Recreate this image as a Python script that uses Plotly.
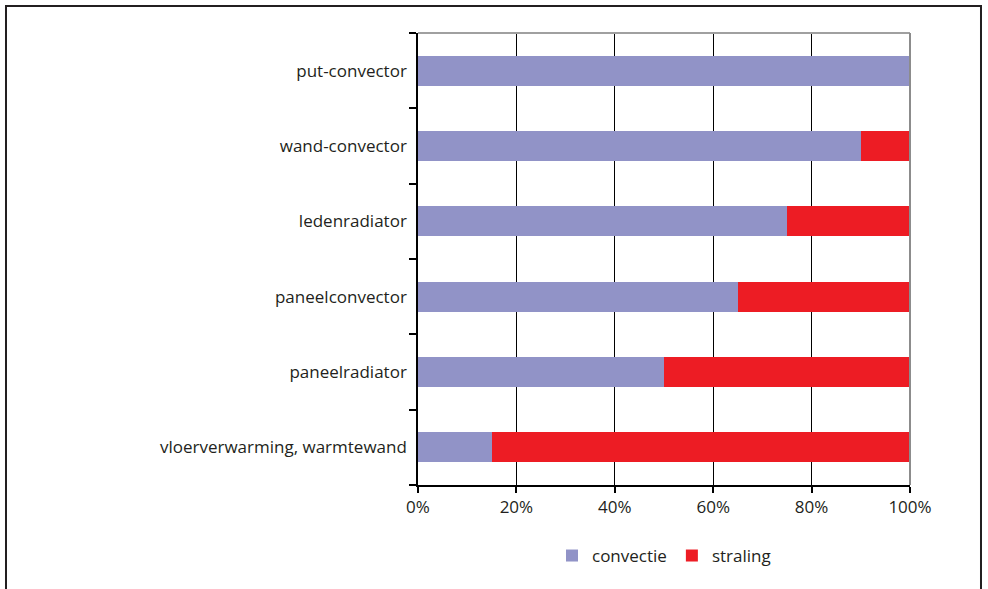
import plotly.graph_objects as go

categories = ["vloerverwarming, warmtewand", "paneelradiator", "paneelconvector",
              "ledenradiator", "wand-convector", "put-convector"]
convectie = [15, 50, 65, 75, 90, 100]
straling = [85, 50, 35, 25, 10, 0]
x_ticks = [0, 20, 40, 60, 80, 100]
x_ticklabels = ["0%", "20%", "40%", "60%", "80%", "100%"]

FONT = "Open Sans"
TXT = "#231F20"

fig = go.Figure()
fig.add_trace(go.Bar(y=categories, x=convectie, name="convectie", orientation="h",
                     marker=dict(color="#9193C7", line=dict(width=0))))
fig.add_trace(go.Bar(y=categories, x=straling, name="straling", orientation="h",
                     marker=dict(color="#ED1C24", line=dict(width=0))))

fig.update_layout(
    width=988, height=589,
    barmode="stack", bargap=0.6,
    paper_bgcolor="white", plot_bgcolor="white",
    margin=dict(l=418, r=78, t=33, b=104),
    font=dict(family=FONT, size=17, color=TXT),
    showlegend=True,
    legend=dict(orientation="h", x=0.5, xanchor="center", y=-0.157, yanchor="middle",
                font=dict(size=17, color=TXT), traceorder="normal",
                itemwidth=30, bgcolor="rgba(0,0,0,0)"),
    xaxis=dict(range=[0, 100], tickvals=x_ticks, ticktext=x_ticklabels,
               showgrid=True, gridcolor="black", gridwidth=1,
               showline=True, linecolor="black", linewidth=1.5,
               ticks="outside", ticklen=6, tickcolor="black", tickwidth=1.5,
               zeroline=False, fixedrange=True),
    yaxis=dict(categoryorder="array", categoryarray=categories,
               showline=True, linecolor="black", linewidth=1.5,
               ticks="outside", tickson="boundaries", ticklen=7, tickcolor="black",
               tickwidth=1.5, showgrid=False, ticklabelstandoff=6, fixedrange=True),
    shapes=[
        dict(type="line", xref="paper", yref="paper", x0=0, x1=1, y0=1, y1=1,
             line=dict(color="#A0A0A0", width=2), layer="above"),
        dict(type="line", xref="paper", yref="paper", x0=1, x1=1, y0=0, y1=1,
             line=dict(color="#8C8C8C", width=2), layer="above"),
        dict(type="path", xref="paper", yref="paper",
             path="M -0.8374,-0.25 L -0.8374,1.0597 L 1.1443,1.0597 L 1.1443,-0.25",
             line=dict(color="#231F20", width=2), layer="above"),
    ],
)
fig.write_html("out.html", post_script="document.body.style.margin='0';",
               config={"displayModeBar": False})
